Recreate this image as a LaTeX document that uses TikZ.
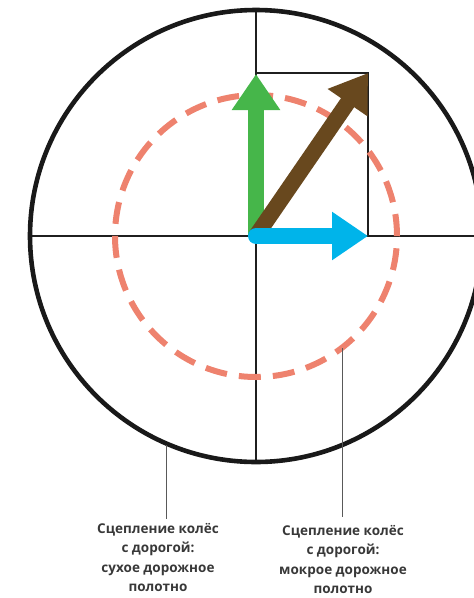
\documentclass[tikz,border=0pt]{standalone}
\usepackage{fontspec}
\setmainfont{Open Sans}
\usetikzlibrary{arrows.meta}
\definecolor{gripgreen}{RGB}{70,182,74}
\definecolor{gripblue}{RGB}{0,180,234}
\definecolor{gripbrown}{RGB}{104,72,30}
\definecolor{wetred}{RGB}{238,130,110}

\begin{document}
\begin{tikzpicture}[x=1pt,y=-1pt,
  axis/.style={draw=black!88,line width=2.4pt},
  vec/.style={line width=16pt,-{Triangle[width=46pt,length=36pt]}},
  lead/.style={black!65,line width=0.9pt},
  note/.style={font=\bfseries\fontsize{13.5}{19.5}\selectfont,text=black!78,
  align=center,inner sep=0pt,anchor=north}]
  \useasboundingbox (0,0) rectangle (474,598);
  \coordinate (O) at (256,236);
  \coordinate (up) at (256,74);
  \coordinate (right) at (368,236);
  \coordinate (corner) at (368,73);
  % axes and friction box
  \draw[axis] (30,236) -- (474,236);
  \draw[axis] (256,10) -- (256,462);
  \draw[draw=black!88,line width=2pt] (O) |- (corner) |- (O);
  % wet road
  \draw[wetred,line width=6pt,dash pattern=on 22pt off 12.07pt] (O) circle[radius=141pt];
  % dry road
  \draw[black!90,line width=4.6pt] (O) circle[radius=226pt];
  \draw[vec,gripgreen] (O) -- (up);
  \begin{scope}
    \clip (0,0) rectangle (369,598);
    \draw[vec,gripbrown] (O) -- (corner);
  \end{scope}
  \draw[vec,gripblue,line cap=round] (O) -- (right);
  % labels
  \coordinate (drypt) at (166,445);
  \coordinate (wetpt) at (342,348);
  \node[note] (dry) at (158,523) {Сцепление колёс\\с дорогой:\\сухое дорожное\\полотно};
  \node[note] (wet) at (343,525) {Сцепление колёс\\с дорогой:\\мокрое дорожное\\полотно};
  \draw[lead,shorten >=4pt] (drypt) -- (drypt |- dry.north);
  \draw[lead,shorten >=8pt] (wetpt) -- (wetpt |- wet.north);
\end{tikzpicture}
\end{document}
